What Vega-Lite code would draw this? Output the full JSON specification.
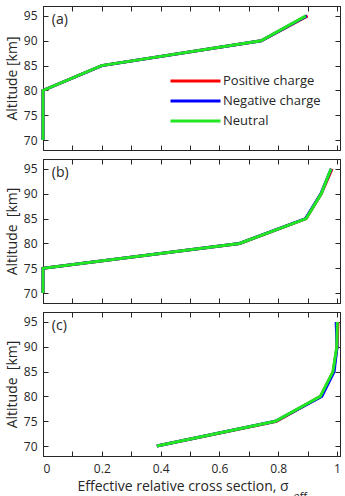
{
  "$schema": "https://vega.github.io/schema/vega-lite/v6.json",
  "background": "white",
  "padding": {"left": 4, "top": 5, "right": 0, "bottom": 0},
  "bounds": "flush",
  "spacing": 9,
  "config": {
    "font": "Open Sans",
    "view": {"stroke": "#262626", "strokeWidth": 1},
    "axis": {
      "grid": false,
      "zindex": 1,
      "domainColor": "#262626",
      "tickColor": "#262626",
      "labelColor": "#262626",
      "titleColor": "#262626",
      "labelPadding": 10,
      "labelFontSize": 12,
      "titleFontSize": 14,
      "titleFontWeight": "normal"
    }
  },
  "datasets": {
    "profiles": [
      {"panel": "a", "species": "Positive charge", "alt": 70, "sigma": 0},
      {"panel": "a", "species": "Positive charge", "alt": 75, "sigma": 0},
      {"panel": "a", "species": "Positive charge", "alt": 80, "sigma": 0},
      {"panel": "a", "species": "Positive charge", "alt": 85, "sigma": 0.2},
      {"panel": "a", "species": "Positive charge", "alt": 90, "sigma": 0.742},
      {"panel": "a", "species": "Positive charge", "alt": 95, "sigma": 0.9},
      {"panel": "a", "species": "Negative charge", "alt": 70, "sigma": 0},
      {"panel": "a", "species": "Negative charge", "alt": 75, "sigma": 0},
      {"panel": "a", "species": "Negative charge", "alt": 80, "sigma": 0},
      {"panel": "a", "species": "Negative charge", "alt": 85, "sigma": 0.2},
      {"panel": "a", "species": "Negative charge", "alt": 90, "sigma": 0.742},
      {"panel": "a", "species": "Negative charge", "alt": 95, "sigma": 0.897},
      {"panel": "a", "species": "Neutral", "alt": 70, "sigma": 0},
      {"panel": "a", "species": "Neutral", "alt": 75, "sigma": 0},
      {"panel": "a", "species": "Neutral", "alt": 80, "sigma": 0},
      {"panel": "a", "species": "Neutral", "alt": 85, "sigma": 0.199},
      {"panel": "a", "species": "Neutral", "alt": 90, "sigma": 0.741},
      {"panel": "a", "species": "Neutral", "alt": 95, "sigma": 0.894},

      {"panel": "b", "species": "Positive charge", "alt": 70, "sigma": 0},
      {"panel": "b", "species": "Positive charge", "alt": 75, "sigma": 0},
      {"panel": "b", "species": "Positive charge", "alt": 80, "sigma": 0.669},
      {"panel": "b", "species": "Positive charge", "alt": 85, "sigma": 0.895},
      {"panel": "b", "species": "Positive charge", "alt": 90, "sigma": 0.946},
      {"panel": "b", "species": "Positive charge", "alt": 95, "sigma": 0.983},
      {"panel": "b", "species": "Negative charge", "alt": 70, "sigma": 0},
      {"panel": "b", "species": "Negative charge", "alt": 75, "sigma": 0},
      {"panel": "b", "species": "Negative charge", "alt": 80, "sigma": 0.668},
      {"panel": "b", "species": "Negative charge", "alt": 85, "sigma": 0.893},
      {"panel": "b", "species": "Negative charge", "alt": 90, "sigma": 0.945},
      {"panel": "b", "species": "Negative charge", "alt": 95, "sigma": 0.98},
      {"panel": "b", "species": "Neutral", "alt": 70, "sigma": 0},
      {"panel": "b", "species": "Neutral", "alt": 75, "sigma": 0},
      {"panel": "b", "species": "Neutral", "alt": 80, "sigma": 0.668},
      {"panel": "b", "species": "Neutral", "alt": 85, "sigma": 0.895},
      {"panel": "b", "species": "Neutral", "alt": 90, "sigma": 0.946},
      {"panel": "b", "species": "Neutral", "alt": 95, "sigma": 0.979},

      {"panel": "c", "species": "Positive charge", "alt": 70, "sigma": 0.387},
      {"panel": "c", "species": "Positive charge", "alt": 75, "sigma": 0.794},
      {"panel": "c", "species": "Positive charge", "alt": 80, "sigma": 0.944},
      {"panel": "c", "species": "Positive charge", "alt": 85, "sigma": 0.987},
      {"panel": "c", "species": "Positive charge", "alt": 90, "sigma": 1.0},
      {"panel": "c", "species": "Positive charge", "alt": 95, "sigma": 1.003},
      {"panel": "c", "species": "Negative charge", "alt": 70, "sigma": 0.387},
      {"panel": "c", "species": "Negative charge", "alt": 75, "sigma": 0.79},
      {"panel": "c", "species": "Negative charge", "alt": 80, "sigma": 0.948},
      {"panel": "c", "species": "Negative charge", "alt": 85, "sigma": 0.99},
      {"panel": "c", "species": "Negative charge", "alt": 90, "sigma": 1.0},
      {"panel": "c", "species": "Negative charge", "alt": 95, "sigma": 0.997},
      {"panel": "c", "species": "Neutral", "alt": 70, "sigma": 0.387},
      {"panel": "c", "species": "Neutral", "alt": 75, "sigma": 0.79},
      {"panel": "c", "species": "Neutral", "alt": 80, "sigma": 0.943},
      {"panel": "c", "species": "Neutral", "alt": 85, "sigma": 0.986},
      {"panel": "c", "species": "Neutral", "alt": 90, "sigma": 0.999},
      {"panel": "c", "species": "Neutral", "alt": 95, "sigma": 1.001}
    ]
  },
  "resolve": {"scale": {"color": "independent"}},
  "vconcat": [
    {
      "width": 297,
      "height": 144,
      "layer": [
        {
          "data": {"name": "profiles"},
          "transform": [{"filter": "datum.panel === 'a'"}],
          "mark": {"type": "line", "strokeWidth": 3},
          "encoding": {
            "x": {"field": "sigma", "type": "quantitative",
                  "scale": {"domain": [0, 1.01], "nice": false},
                  "axis": {"orient": "bottom", "values": [0, 0.1, 0.2, 0.3, 0.4, 0.5, 0.6, 0.7, 0.8, 0.9, 1], "ticks": true, "domain": true, "tickWidth": 1, "tickColor": "#262626", "tickSize": -5, "labels": false, "title": null}},
            "y": {"field": "alt", "type": "quantitative",
                  "scale": {"domain": [68, 97], "nice": false, "zero": false},
                  "axis": {"orient": "left", "values": [70, 75, 80, 85, 90, 95], "ticks": true, "domain": true, "tickWidth": 1, "tickColor": "#262626", "tickSize": -5, "labelPadding": 11, "title": "Altitude [km]", "titlePadding": 4}},
            "order": {"field": "alt", "type": "quantitative"},
            "color": {"field": "species", "type": "nominal",
                      "scale": {"domain": ["Positive charge", "Negative charge", "Neutral"], "range": ["#ff0000", "#0000ff", "#22e622"]},
                      "legend": {"orient": "none", "legendX": 126, "legendY": 67, "title": null,
                                 "symbolType": "stroke", "symbolSize": 2500, "symbolStrokeWidth": 3,
                                 "clipHeight": 16, "rowPadding": 4,
                                 "labelFontSize": 13, "labelColor": "#262626", "labelOffset": 1}}
          }
        },
        {
          "data": {"values": [{}]},
          "mark": {"type": "text", "text": "(a)", "align": "left", "baseline": "middle", "fontSize": 14, "color": "#262626"},
          "encoding": {
            "x": {"datum": 0.03, "type": "quantitative",
                  "axis": {"orient": "top", "values": [0, 0.1, 0.2, 0.3, 0.4, 0.5, 0.6, 0.7, 0.8, 0.9, 1], "ticks": true, "domain": true, "tickWidth": 1, "tickColor": "#262626", "tickSize": -5, "labels": false, "title": null}},
            "y": {"datum": 94.2, "type": "quantitative",
                  "axis": {"orient": "right", "values": [70, 75, 80, 85, 90, 95], "ticks": true, "domain": true, "tickWidth": 1, "tickColor": "#262626", "tickSize": -5, "labels": false, "title": null}}
          }
        }
      ],
      "resolve": {"axis": {"x": "independent", "y": "independent"}}
    },
    {
      "width": 297,
      "height": 144,
      "layer": [
        {
          "data": {"name": "profiles"},
          "transform": [{"filter": "datum.panel === 'b'"}],
          "mark": {"type": "line", "strokeWidth": 3},
          "encoding": {
            "x": {"field": "sigma", "type": "quantitative",
                  "scale": {"domain": [0, 1.01], "nice": false},
                  "axis": {"orient": "bottom", "values": [0, 0.1, 0.2, 0.3, 0.4, 0.5, 0.6, 0.7, 0.8, 0.9, 1], "ticks": true, "domain": true, "tickWidth": 1, "tickColor": "#262626", "tickSize": -5, "labels": false, "title": null}},
            "y": {"field": "alt", "type": "quantitative",
                  "scale": {"domain": [68, 97], "nice": false, "zero": false},
                  "axis": {"orient": "left", "values": [70, 75, 80, 85, 90, 95], "ticks": true, "domain": true, "tickWidth": 1, "tickColor": "#262626", "tickSize": -5, "labelPadding": 11, "title": "Altitude\u00a0 [km]", "titlePadding": 4}},
            "order": {"field": "alt", "type": "quantitative"},
            "color": {"field": "species", "type": "nominal",
                      "scale": {"domain": ["Positive charge", "Negative charge", "Neutral"], "range": ["#ff0000", "#0000ff", "#22e622"]},
                      "legend": null}
          }
        },
        {
          "data": {"values": [{}]},
          "mark": {"type": "text", "text": "(b)", "align": "left", "baseline": "middle", "fontSize": 14, "color": "#262626"},
          "encoding": {
            "x": {"datum": 0.03, "type": "quantitative",
                  "axis": {"orient": "top", "values": [0, 0.1, 0.2, 0.3, 0.4, 0.5, 0.6, 0.7, 0.8, 0.9, 1], "ticks": true, "domain": true, "tickWidth": 1, "tickColor": "#262626", "tickSize": -5, "labels": false, "title": null}},
            "y": {"datum": 94.1, "type": "quantitative",
                  "axis": {"orient": "right", "values": [70, 75, 80, 85, 90, 95], "ticks": true, "domain": true, "tickWidth": 1, "tickColor": "#262626", "tickSize": -5, "labels": false, "title": null}}
          }
        }
      ],
      "resolve": {"axis": {"x": "independent", "y": "independent"}}
    },
    {
      "width": 297,
      "height": 144,
      "layer": [
        {
          "data": {"name": "profiles"},
          "transform": [{"filter": "datum.panel === 'c'"}],
          "mark": {"type": "line", "strokeWidth": 3},
          "encoding": {
            "x": {"field": "sigma", "type": "quantitative",
                  "scale": {"domain": [0, 1.01], "nice": false},
                  "axis": {"orient": "bottom", "values": [0, 0.1, 0.2, 0.3, 0.4, 0.5, 0.6, 0.7, 0.8, 0.9, 1], "ticks": true, "domain": true, "tickWidth": 1, "tickColor": "#262626", "tickSize": -5,
                           "labelExpr": "round(datum.value * 10) % 2 === 0 ? format(datum.value, '~g') : ''",
                           "labelPadding": 12, "title": "Effective relative cross section, σ", "titlePadding": 5, "titleX": 139.5}},
            "y": {"field": "alt", "type": "quantitative",
                  "scale": {"domain": [68, 97], "nice": false, "zero": false},
                  "axis": {"orient": "left", "values": [70, 75, 80, 85, 90, 95], "ticks": true, "domain": true, "tickWidth": 1, "tickColor": "#262626", "tickSize": -5, "labelPadding": 11, "title": "Altitude\u00a0 [km]", "titlePadding": 4}},
            "order": {"field": "alt", "type": "quantitative"},
            "color": {"field": "species", "type": "nominal",
                      "scale": {"domain": ["Positive charge", "Negative charge", "Neutral"], "range": ["#ff0000", "#0000ff", "#22e622"]},
                      "legend": null}
          }
        },
        {
          "data": {"values": [{}]},
          "mark": {"type": "text", "text": "(c)", "align": "left", "baseline": "middle", "fontSize": 14, "color": "#262626"},
          "encoding": {
            "x": {"datum": 0.03, "type": "quantitative",
                  "axis": {"orient": "top", "values": [0, 0.1, 0.2, 0.3, 0.4, 0.5, 0.6, 0.7, 0.8, 0.9, 1], "ticks": true, "domain": true, "tickWidth": 1, "tickColor": "#262626", "tickSize": -5, "labels": false, "title": null}},
            "y": {"datum": 94.1, "type": "quantitative",
                  "axis": {"orient": "right", "values": [70, 75, 80, 85, 90, 95], "ticks": true, "domain": true, "tickWidth": 1, "tickColor": "#262626", "tickSize": -5, "labels": false, "title": null}}
          }
        },
        {
          "data": {"values": [{}]},
          "mark": {"type": "text", "text": "eff", "align": "left", "baseline": "top", "fontSize": 11, "color": "#262626", "clip": false},
          "encoding": {
            "x": {"datum": 0.852, "type": "quantitative", "axis": null},
            "y": {"datum": 60.9, "type": "quantitative", "axis": null}
          }
        }
      ],
      "resolve": {"axis": {"x": "independent", "y": "independent"}}
    }
  ]
}
